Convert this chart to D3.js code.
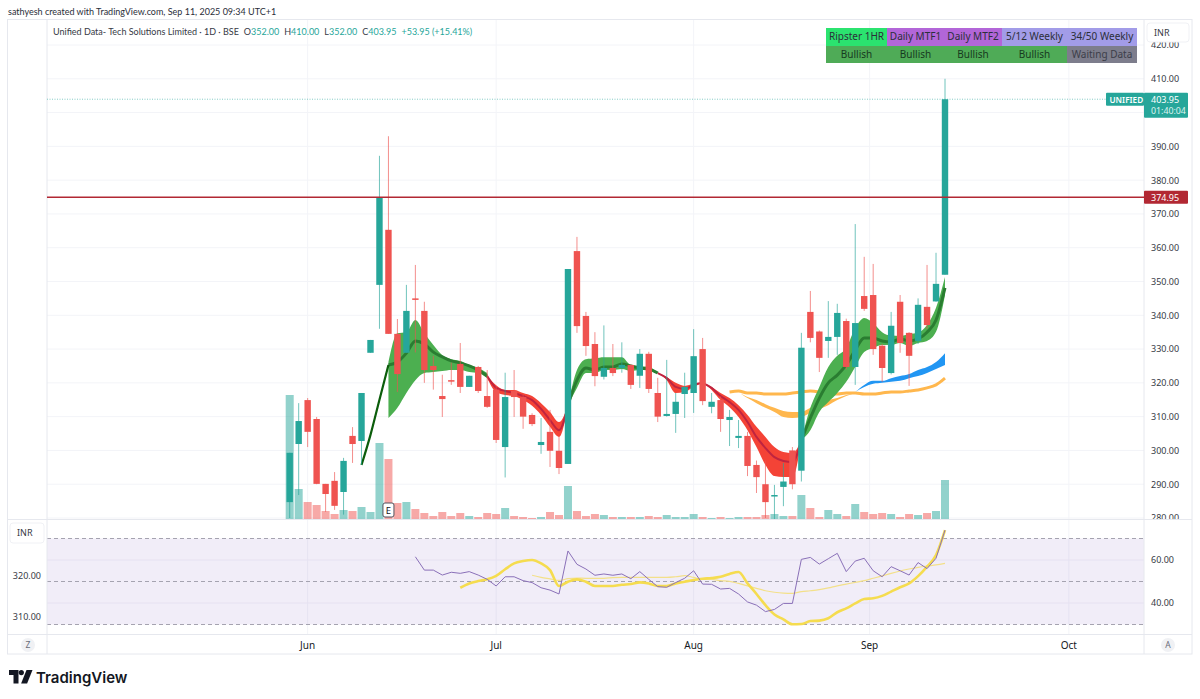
<!DOCTYPE html>
<html>
<head>
<meta charset="utf-8">
<script src="https://cdn.jsdelivr.net/npm/d3@7"></script>
<style>
    html, body { margin: 0; padding: 0; background: #fff; }
    text { font-family: "Noto Sans", sans-serif; }
</style>
</head>
<body>
<svg id="chart" width="1200" height="699"></svg>
<script>
// daily candles, one entry per session
const opens = [284.7,301.9,314.9,309.3,290.1,291,287.7,304.3,302.8,328.9,349,365.3,334.5,328.9,345,341.3,325,316.1,320.8,325.6,318.8,324.7,316.1,318,301,317.6,315.8,310.5,301.6,305.5,299.9,296,359,339.8,331.5,321.8,324.4,324.4,325.3,322.1,328.6,317,310.2,310.8,316.7,317,330,312.9,314.9,309,303.7,304.3,295.7,290,286.5,289.2,300,294,341,335.2,332.4,333.6,338.3,324.7,345.7,346,331,322.9,344,334.8,332.4,342.5,344.1,352];
const highs = [299.3,314,315.5,309.9,290.1,293.6,297.8,306.9,317,332.7,387.2,393,338.9,349,354.9,344,328,322.4,326,331.8,322.1,325,323.8,319,323,323.8,316.5,311,309.6,312,304,353.7,363.2,341,335,337,331.5,332,325.5,330,329.2,321.5,326.8,317,323,335.9,333.3,317,316,312,309,305.5,297,297,289.8,296.3,301,334.8,347.2,335.5,344.2,343.4,339,367,357.3,355.2,331.5,341,346,335,345,354.9,358.5,410];
const lows = [280,286.8,301,290,281.8,282.4,281,296.3,295.7,328.9,336,334.5,317.3,328.9,329,320,318,309.9,319.4,317,318.8,317,312.6,302.2,292,309.9,306.4,307.2,299,295.1,293,296,334.8,328,319,321,322,323,318.2,318.5,317,308.4,310,305.2,309.6,311.1,313.4,311,305.5,301.3,300.7,292.4,287.4,280,279.5,283.5,288.5,290.8,332,323.2,327.4,328.3,324,319.4,341.3,328.3,320.3,322.5,328.9,319.1,331.5,336,344,352];
const closes = [299.3,308.7,305.5,290.1,287.1,283.6,296.9,301.9,317,332.7,375,334.5,322.6,341.3,344.6,323.8,323.8,315.2,320.5,318.8,322.1,317.6,312.9,303.1,315.8,315.8,310,307.8,302.5,299.9,294.8,353.7,336.8,330.9,322,324.4,322.9,325.3,319.4,328.6,318.2,310,310.8,314.4,318.8,327.9,314.6,314.4,309.3,309.9,304.3,295.4,292.1,284.7,286.8,290.8,290,330.4,333.3,327.4,333.6,340.7,324.7,337.7,341.9,330,324.4,336.9,331.8,328,343.1,337.1,349.3,403.95];
const volumes = [124,30,17,14,8,5,9,8,12,7,76,60,16,17,10,6,3,7,3,6,3,2,6,5,11,3,2,1,2,7,4,33,8,3,5,4,2,2,2,2,3,2,4,2,2,5,2,1,2,1,2,2,2,4,5,3,3,24,11,2,9,5,3,15,7,5,6,5,2,5,4,6,8,39];

// EMA clouds: first session, then upper, lower, centre
const greenCloudA = { start: 11,
    upper: [326.2,334.7,335,338.6,334.7,331.2,328.2,327,326.5,325.3,324.4,322.9],
    lower: [309.6,312.6,317,320.8,322.9,323.2,323.5,323.8,323.8,323.2,322.9,321.4],
    mid: [325.3,326.2,328.8,332.4,331.5,329.1,327.7,326.5,325.9,325,323.8,322] };
const redCloudA = { start: 22,
    upper: [322,319.3,317.9,317.9,317,316.1,314,311.4,308.4,313.4],
    lower: [321.4,317.3,316.4,316.1,314.9,313.2,310.5,307,304,313.4],
    mid: [322,318.5,317.6,317,316.1,314.9,312.3,309,306,313.4] };
const greenCloudB = { start: 31,
    upper: [313.4,323.8,327,327.3,327.6,327.6,327.6,325.3,325,324.7,322.9],
    lower: [313.4,318.5,322.9,322.9,323.8,323.8,324.1,323.5,323.8,323.8,322.9],
    mid: [313.4,320.8,324.4,323.8,324.7,324.7,325.6,325,324.4,324.1,322.9] };
const redCloudB = { start: 41,
    upper: [322.9,321.7,320,319.1,319.7,320],
    lower: [322.9,320.8,317,317.3,318.8,320],
    mid: [322.9,321.4,318.8,318.2,319.4,320] };
const redCloudC = { start: 46,
    upper: [320,318.8,317,315.5,313.4,310.5,307,304,301,299.5,299.2,303.1],
    lower: [320,317.9,314.9,312.8,309.9,306,301,295.7,292.4,292.1,292.1,303.1],
    mid: [320,318.5,316.1,314.3,312,308.4,304,300.7,298,296.9,296.6,303.1] };
const greenCloudC = { start: 57,
    upper: [303.1,312.6,318.8,324.7,328,330.3,336.2,339.2,337.7,335,334,333.9,334.4,334.8,337.1,342.2,351.3],
    lower: [303.1,306,311.4,314.3,317,320.3,324.7,329.1,330.3,331.2,331.2,331.8,330.9,331.8,332.4,335.1,346],
    mid: [303.1,309.6,315.5,320,322.3,325.3,329.7,333.3,333.3,332.4,332.1,333,332.4,333,335,338.6,348.1] };
const riseStart = 8;
const riseLine = [295.7,304.6,315,325.3];
const blueUpper = [317.3,319.4,320.6,320.6,321.4,322,322.6,323.8,324.7,326.2,328.8];
const blueLower = [317.3,318.8,319.7,320,320.3,320.6,321.4,322,322.9,324.1,325.3];
const blueStart = 63;
const orangeFlat = [317.3,317.6,317,317,316.7,316.7,316.7,317,317.3,317.6,317.3,316.7,316.7,317,317,316.7,316.7,317,317.3,317.3,317.6,317.9,318.5,319.4,321.4];
const orangeUpper = [317.3,317,315.8,314.9,313.7,312.6,311.7,311.4,311.4,312.6,314,314.9,315.5,316.4,317];
const orangeLower = [317.3,317,315.5,314,312.6,311.4,309.9,309.6,309.9,311.1,312.3,313.4,314.9,316.1,317];
const orangeStart = 49;

// lower pane
const rsiLine = [61.5,55.3,55.3,53,54.3,53.8,54.6,53,51,47.9,52.2,52.2,50.4,49.5,47.1,46,44.2,64.2,58,55.8,52.9,53.5,52.9,53.5,51.3,54.6,51,47.6,47.3,49.5,51.5,55,48.8,48.7,46.5,46.8,44.2,40.5,39,36,37,39.8,39.8,60.3,61.2,58.1,60.6,63.1,54.6,59.5,60.8,55,52.2,56.9,55,53,58.8,56,60.8,73.9];
const rsiStart = 14;
const smoothLine = [47.1,49.1,50.2,51,52.6,55.7,58.4,59.5,60,58.4,55.3,47.9,49.9,51,49.9,47.9,47.9,47.9,48.5,48.8,49.6,49.1,47.9,47.9,49.1,49.9,50.7,51.3,51.6,52.2,53.5,54.4,49.1,44.2,39,34.7,32.4,30.1,30.2,31.6,31.8,32.9,35.7,37.5,39.8,41.9,42.2,43.3,45.3,47.3,49.1,52.5,56.9,62.3,73.9];
const smoothStart = 19;
const rsiAverage = [52.9,51.9,51.2,50.5,51.3,51.6,51.5,51.5,51.5,51.8,51.9,51.9,51.9,51.9,51.9,51.9,52.2,52.7,51.9,51,51,50.4,50.1,49.1,48,46.8,45.7,45,44.6,44.5,45.3,45.7,46.2,47,48,48.8,49.6,50.4,51.5,52.6,53.8,54.9,55.8,56.6,57.2,57.7,58.4];
const averageStart = 27;

// axes and labels
const priceTicks = [280,290,300,310,320,330,340,350,360,370,380,390,400,410,420];
const priceLabels = [280,290,300,310,320,330,340,350,360,370,380,390,410,420]; // 400 sits under the last price tag
const monthNames = ['Jun','Jul','Aug','Sep','Oct'];
const monthSessions = [2,23,45,64.6,86.8];
const rsiTicks = [40,60];
const rsiBands = [30,50,70];
const leftTicks = [310,320];
const lastPrice = 403.95;
const alertPrice = 374.95;
const earningsSession = 11;
const tableHeads = ['Ripster 1HR','Daily MTF1','Daily MTF2','5/12 Weekly','34/50 Weekly'];
const tableStates = ['Bullish','Bullish','Bullish','Bullish','Waiting Data'];
const tableEdges = [826,887,944,1002,1067,1137];
const tableColors = ['#2be36f','#b266d8','#b266d8','#a29ce8','#a29ce8'];
const stateColors = ['#4fab57','#4fab57','#4fab57','#4fab57','#7d7d8c'];

const TEAL = '#26a69a', RED = '#ef5350', AXIS_TEXT = '#363a45', BORDER = '#e6e8ee', GRID = '#f3f4f8';
const HEADER_FONT = 'Lato, sans-serif';
const paneLeft = 47, paneRight = 1144;

const svg = d3.select('#chart');
const x = d3.scaleLinear().domain([0, 73]).range([289.7, 945]);
const y = d3.scaleLinear().domain([280, 420]).range([518, 45]);
const yVol = d3.scaleLinear().domain([0, 100]).range([519, 419]);
const yRsi = d3.scaleLinear().domain([30, 70]).range([624.5, 538.5]);
const yLeft = d3.scaleLinear().domain([310, 320]).range([617, 576]);

const defs = svg.append('defs');
defs.append('clipPath').attr('id', 'mainClip').append('rect')
    .attr('x', paneLeft).attr('y', 20).attr('width', paneRight - paneLeft).attr('height', 499);
defs.append('clipPath').attr('id', 'axisClip').append('rect')
    .attr('x', 0).attr('y', 20).attr('width', 48).attr('height', 499);

// grid
const grid = svg.append('g');
grid.selectAll('.h').data(priceTicks).enter().append('line')
    .attr('class', 'h')
    .attr('x1', paneLeft).attr('x2', paneRight)
    .attr('y1', d => y(d)).attr('y2', d => y(d))
    .attr('stroke', GRID);
grid.selectAll('.v').data(monthSessions).enter().append('line')
    .attr('class', 'v')
    .attr('x1', d => x(d)).attr('x2', d => x(d))
    .attr('y1', 20).attr('y2', 634)
    .attr('stroke', GRID);

// rsi background
svg.append('rect')
    .attr('x', paneLeft).attr('width', paneRight - paneLeft)
    .attr('y', yRsi(70)).attr('height', yRsi(30) - yRsi(70))
    .attr('fill', '#7e57c2').attr('opacity', 0.11);
svg.append('g').selectAll('line').data(rsiTicks).enter().append('line')
    .attr('x1', paneLeft).attr('x2', paneRight)
    .attr('y1', d => yRsi(d)).attr('y2', d => yRsi(d))
    .attr('stroke', '#e6e1f1');
svg.append('g').selectAll('line').data(rsiBands).enter().append('line')
    .attr('x1', paneLeft).attr('x2', paneRight)
    .attr('y1', d => yRsi(d)).attr('y2', d => yRsi(d))
    .attr('stroke', '#a5a3b0').attr('stroke-dasharray', '4 3');

// frame
const frame = svg.append('g').attr('stroke', BORDER).attr('fill', 'none');
frame.append('rect').attr('x', 7.5).attr('y', 19.5).attr('width', 1184.5).attr('height', 634.5);
[[paneLeft, 19.5, paneLeft, 654], [paneRight, 19.5, paneRight, 654], [7.5, 519.5, 1192, 519.5], [7.5, 634.5, 1192, 634.5]]
    .forEach(l => frame.append('line').attr('x1', l[0]).attr('y1', l[1]).attr('x2', l[2]).attr('y2', l[3]));

const main = svg.append('g').attr('clip-path', 'url(#mainClip)');

// volume, behind everything
main.append('g').selectAll('rect').data(volumes).enter().append('rect')
    .attr('x', (d, i) => x(i) - 4)
    .attr('width', 8)
    .attr('y', d => yVol(d))
    .attr('height', d => yVol(0) - yVol(d))
    .attr('fill', (d, i) => closes[i] >= opens[i] ? TEAL : RED)
    .attr('opacity', 0.5);

const seriesPoints = (start, values) => values.map((v, k) => [start + k, v]);
const linePath = d3.line().x(d => x(d[0])).y(d => y(d[1])).curve(d3.curveMonotoneX);
const bandPath = d3.area().x(d => x(d[0])).y0(d => y(d[2])).y1(d => y(d[1])).curve(d3.curveMonotoneX);

const drawBand = (start, upper, lower, fill) => {
    main.append('path')
        .datum(upper.map((u, k) => [start + k, u, lower[k]]))
        .attr('d', bandPath)
        .attr('fill', fill);
};
const drawLine = (g, pts, path, color, width, opacity) => {
    g.append('path').datum(pts).attr('d', path)
        .attr('fill', 'none').attr('stroke', color)
        .attr('stroke-width', width).attr('opacity', opacity || 1);
};

// slower moving averages
drawBand(orangeStart, orangeUpper, orangeLower, '#ffb74d');
drawLine(main, seriesPoints(orangeStart, orangeFlat), linePath, '#ffb74d', 3);
drawBand(blueStart, blueUpper, blueLower, '#2196f3');

// fast clouds
[greenCloudA, greenCloudB, greenCloudC].forEach(c => {
    drawBand(c.start, c.upper, c.lower, '#4caf50');
    drawLine(main, seriesPoints(c.start, c.mid), linePath, '#2a7d31', 3);
});
[redCloudA, redCloudB, redCloudC].forEach(c => {
    drawBand(c.start, c.upper, c.lower, '#f44336');
    drawLine(main, seriesPoints(c.start, c.mid), linePath, '#bf2440', 2);
});
drawLine(main, seriesPoints(riseStart, riseLine), linePath, '#0b5d0b', 2.2);

// candles
const candles = main.append('g');
candles.selectAll('.wick').data(closes).enter().append('line')
    .attr('class', 'wick')
    .attr('x1', (d, i) => x(i)).attr('x2', (d, i) => x(i))
    .attr('y1', (d, i) => y(highs[i])).attr('y2', (d, i) => y(lows[i]))
    .attr('stroke', (d, i) => d >= opens[i] ? TEAL : RED)
    .attr('stroke-width', 1).attr('opacity', 0.65);
candles.selectAll('.body').data(closes).enter().append('rect')
    .attr('class', 'body')
    .attr('x', (d, i) => x(i) - 3.2)
    .attr('width', 6.4)
    .attr('y', (d, i) => y(Math.max(d, opens[i])))
    .attr('height', (d, i) => Math.max(1.5, Math.abs(y(d) - y(opens[i]))))
    .attr('fill', (d, i) => d >= opens[i] ? TEAL : RED);

// price lines
svg.append('line').attr('x1', paneLeft).attr('x2', paneRight)
    .attr('y1', y(alertPrice)).attr('y2', y(alertPrice))
    .attr('stroke', '#b22833').attr('stroke-width', 1.5);
svg.append('line').attr('x1', paneLeft).attr('x2', paneRight)
    .attr('y1', y(lastPrice)).attr('y2', y(lastPrice))
    .attr('stroke', TEAL).attr('stroke-width', 0.8).attr('stroke-dasharray', '1 1.5').attr('opacity', 0.7);

// earnings flag
const flag = svg.append('g').attr('transform', `translate(${x(earningsSession)},510)`);
flag.append('rect').attr('x', -5.5).attr('y', -7).attr('width', 11).attr('height', 14).attr('rx', 2)
    .attr('fill', '#fff').attr('stroke', '#50535e');
flag.append('text').attr('text-anchor', 'middle').attr('y', 3.5)
    .attr('font-size', 9.5).attr('fill', '#131722').text('E');

// rsi pane lines
const rsiStraight = d3.line().x(d => x(d[0])).y(d => yRsi(d[1]));
const rsiSmooth = d3.line().x(d => x(d[0])).y(d => yRsi(d[1])).curve(d3.curveMonotoneX);
const lower = svg.append('g');
drawLine(lower, seriesPoints(averageStart, rsiAverage), rsiSmooth, '#f3e08a', 1.2);
drawLine(lower, seriesPoints(smoothStart, smoothLine), rsiSmooth, '#f5dc4f', 2.6);
drawLine(lower, seriesPoints(rsiStart, rsiLine), rsiStraight, '#8a70b8', 1);

// price axis
const styleAxis = g => {
    g.select('.domain').remove();
    g.selectAll('text').attr('font-size', 9).attr('fill', AXIS_TEXT).style('font-family', '"Noto Sans", sans-serif');
};
svg.append('g')
    .attr('transform', `translate(${paneRight},0)`)
    .attr('clip-path', 'url(#axisClip)')
    .call(d3.axisRight(y).tickValues(priceLabels).tickSize(0).tickPadding(7).tickFormat(d3.format('.2f')))
    .call(styleAxis);
svg.append('g')
    .attr('transform', `translate(${paneRight},0)`)
    .call(d3.axisRight(yRsi).tickValues(rsiTicks).tickSize(0).tickPadding(7).tickFormat(d3.format('.2f')))
    .call(styleAxis);
svg.append('g')
    .attr('transform', `translate(${paneLeft},0)`)
    .call(d3.axisLeft(yLeft).tickValues(leftTicks).tickSize(0).tickPadding(6).tickFormat(d3.format('.2f')))
    .call(styleAxis);

// month axis
svg.append('g').selectAll('text').data(monthNames).enter().append('text')
    .attr('x', (d, i) => x(monthSessions[i]))
    .attr('y', 648.5)
    .attr('text-anchor', 'middle')
    .attr('font-size', 10)
    .attr('fill', '#131722')
    .text(d => d);

// currency buttons
[[1147, 23, 42, 19], [10, 523, 34, 20]].forEach(b => {
    svg.append('rect').attr('x', b[0]).attr('y', b[1]).attr('width', b[2]).attr('height', b[3]).attr('rx', 3)
        .attr('fill', '#fff').attr('stroke', '#f0f1f5');
    svg.append('text').attr('x', b[0] + 7).attr('y', b[1] + 13)
        .attr('font-size', 9).attr('fill', AXIS_TEXT).text('INR');
});

// z / a buttons
[[28, 'Z'], [1168, 'A']].forEach(b => {
    svg.append('circle').attr('cx', b[0]).attr('cy', 645).attr('r', 7).attr('fill', '#f0f1f4');
    svg.append('text').attr('x', b[0]).attr('y', 648.3).attr('text-anchor', 'middle')
        .attr('font-size', 8.5).attr('fill', '#6a6d78').text(b[1]);
});

// price tags
const tag = (tx, ty, w, h, fill) => svg.append('rect').attr('x', tx).attr('y', ty).attr('width', w).attr('height', h).attr('rx', 1).attr('fill', fill);
const tagText = (tx, ty, t, size, color, weight) => svg.append('text').attr('x', tx).attr('y', ty)
    .attr('font-size', size).attr('fill', color).attr('font-weight', weight || 400).text(t);
tag(1106, y(lastPrice) - 6.5, 38, 13, TEAL);
tagText(1109.5, y(lastPrice) + 3.3, 'UNIFIED', 8.2, '#fff', 600);
tag(paneRight, y(lastPrice) - 6.5, 44, 25, TEAL);
tagText(1151, y(lastPrice) + 3.5, lastPrice.toFixed(2), 9, '#fff');
tagText(1151, y(lastPrice) + 15, '01:40:04', 8.8, '#dff3f0');
tag(paneRight, y(alertPrice) - 6.5, 44, 13, '#b22833');
tagText(1151, y(alertPrice) + 3.4, alertPrice.toFixed(2), 9, '#fff');

// status table
const table = svg.append('g');
tableHeads.forEach((head, i) => {
    const x0 = tableEdges[i], x1 = tableEdges[i + 1], mid = (x0 + x1) / 2;
    table.append('rect').attr('x', x0).attr('y', 28).attr('width', x1 - x0).attr('height', 18).attr('fill', tableColors[i]);
    table.append('rect').attr('x', x0).attr('y', 46).attr('width', x1 - x0).attr('height', 17).attr('fill', stateColors[i]);
    table.append('text').attr('x', mid).attr('y', 40.2).attr('text-anchor', 'middle')
        .attr('font-size', 10).attr('fill', '#2b2f3a').text(head);
    table.append('text').attr('x', mid).attr('y', 57.5).attr('text-anchor', 'middle')
        .attr('font-size', 10).attr('fill', i === 4 ? '#3c3d49' : '#173a1f').text(tableStates[i]);
});

// header texts
svg.append('text').attr('x', 8).attr('y', 14.5).attr('font-size', 9).attr('fill', '#2a2e39')
    .style('font-family', HEADER_FONT)
    .text('sathyesh created with TradingView.com, Sep 11, 2025 09:34 UTC+1');
const legend = svg.append('text').attr('x', 53).attr('y', 35).attr('font-size', 9).attr('fill', '#363a45')
    .style('font-family', HEADER_FONT);
legend.append('tspan').text('Unified Data- Tech Solutions Limited · 1D · BSE');
[['O', '352.00'], ['H', '410.00'], ['L', '352.00'], ['C', '403.95']].forEach(p => {
    legend.append('tspan').attr('dx', 5).text(p[0]);
    legend.append('tspan').attr('fill', TEAL).text(p[1]);
});
legend.append('tspan').attr('dx', 5).attr('fill', TEAL).text('+53.95 (+15.41%)');

// logo
const logo = svg.append('g').attr('fill', '#131722');
logo.append('path').attr('d', 'M9 670h9.5v13.5h-5v-8.5H9z');
logo.append('circle').attr('cx', 21.3).attr('cy', 672.6).attr('r', 2.6);
logo.append('path').attr('d', 'M26.5 670h6l-5.4 13.5h-6z');
logo.append('text').attr('x', 36).attr('y', 682.5).attr('font-size', 15).attr('font-weight', 600)
    .style('font-family', 'Inter, sans-serif').text('TradingView');
</script>
</body>
</html>
